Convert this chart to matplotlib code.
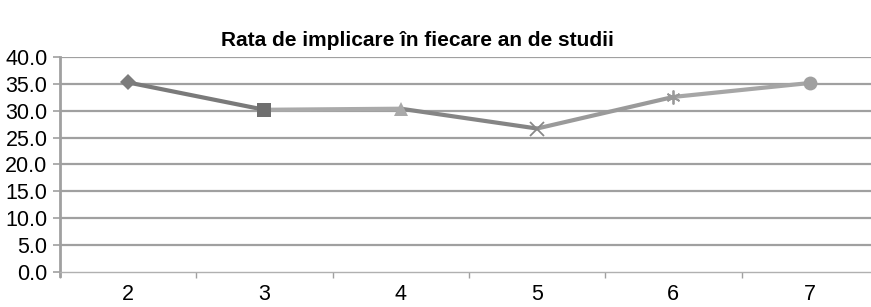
import matplotlib
matplotlib.use("Agg")
import matplotlib.pyplot as plt

title = "Rata de implicare în fiecare an de studii"
years = ["2", "3", "4", "5", "6", "7"]
values = [35.3, 30.2, 30.4, 26.7, 32.6, 35.2]
y_ticks = [0, 5, 10, 15, 20, 25, 30, 35, 40]

markers = ["D", "s", "^", "x", (6, 2, 0), "o"]
marker_colors = ["#7c7c7c", "#6f6f6f", "#a9a9a9", "#888888", "#999999", "#a0a0a0"]
seg_colors = ["#7a7a7a", "#aaaaaa", "#858585", "#9a9a9a", "#a6a6a6"]
marker_sizes = [8, 10, 10, 10, 10, 10]

plt.rcParams["font.family"] = ["Liberation Sans", "DejaVu Sans"]

fig = plt.figure(figsize=(8.71, 3.07), dpi=100)
ax = fig.add_axes([60 / 871, 1 - 271.5 / 307, 1 - 60 / 871, (271.5 - 57.3) / 307])

x = list(range(len(years)))
for i in range(len(years) - 1):
    ax.plot(x[i:i + 2], values[i:i + 2], color=seg_colors[i], lw=3, zorder=3,
            solid_capstyle="butt")
for i in range(len(years)):
    m = markers[i]
    if m in ("x",) or isinstance(m, tuple):
        ax.plot(x[i], values[i], marker=m, ms=marker_sizes[i], mew=1.3,
                color=marker_colors[i], zorder=4, linestyle="none")
    else:
        ax.plot(x[i], values[i], marker=m, ms=marker_sizes[i], mew=0,
                color=marker_colors[i], zorder=4, linestyle="none")

ax.set_ylim(0, 40)
ax.set_xlim(-0.5, 5.45)
ax.set_yticks(y_ticks)
ax.set_yticklabels([f"{v:.1f}" for v in y_ticks])
for v in y_ticks[1:]:
    ax.axhline(v, color="#a0a0a0", lw=1.6, zorder=1)

ax.set_xticks(x)
ax.set_xticklabels(years)
ax.set_xticks([i - 0.5 for i in range(len(years))], minor=True)
ax.tick_params(axis="x", which="major", length=0, pad=9, labelsize=15.5)
ax.tick_params(axis="x", which="minor", length=4, width=1, color="#a0a0a0", direction="out")
ax.tick_params(axis="y", length=5, width=1.2, color="#a0a0a0", pad=4, labelsize=15.5)

for s in ["top", "right"]:
    ax.spines[s].set_visible(False)
ax.spines["left"].set_color("#a0a0a0")
ax.spines["left"].set_linewidth(2)
ax.spines["left"].set_bounds(-0.8, 40)
ax.spines["bottom"].set_color("#b0b0b0")
ax.spines["bottom"].set_linewidth(1)

fig.text(417 / 871, 1 - 41 / 307, title, ha="center", va="center",
         fontsize=15, fontweight="bold")

fig.savefig("out.png", dpi=100)
